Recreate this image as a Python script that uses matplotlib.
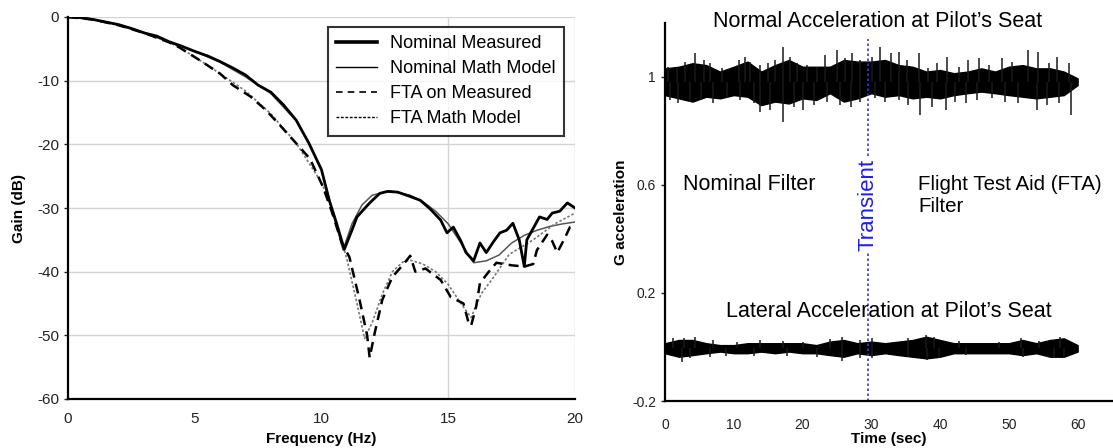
import matplotlib
matplotlib.use("Agg")
import matplotlib.pyplot as plt
from matplotlib.lines import Line2D

plt.rcParams['font.family'] = ['Liberation Sans', 'DejaVu Sans']
plt.rcParams['axes.unicode_minus'] = False

# ---------------- Left panel data: Gain vs Frequency ----------------
nom_meas_f = [0, 0.5, 1, 1.5, 2, 2.5, 3, 3.5, 4, 4.5, 5, 5.5, 6, 6.5, 7, 7.5, 8, 8.5,
              9, 9.5, 10, 10.3, 10.6, 10.9, 11.2, 11.4, 11.9, 12.3, 12.6, 13.0, 13.5,
              13.9, 14.3, 14.7, 14.95, 15.2, 15.5, 15.7, 16.0, 16.25, 16.5, 16.8, 17.04,
              17.3, 17.55, 17.8, 18.0, 18.1, 18.35, 18.6, 18.9, 19.1, 19.4, 19.7, 20.0]
nom_meas_db = [0, -0.1, -0.4, -0.8, -1.2, -1.8, -2.5, -3.0, -3.9, -4.6, -5.4, -6.1, -7.0,
               -8.0, -9.1, -10.7, -11.8, -13.8, -16.2, -19.8, -24.0, -28.7, -32.5, -36.5,
               -33.5, -31.4, -29.2, -27.7, -27.4, -27.5, -28.2, -28.8, -30.2, -31.9,
               -33.9, -33.0, -35.2, -37.0, -38.3, -35.5, -37.0, -35.2, -33.9, -33.5,
               -32.4, -35.0, -39.2, -35.0, -33.2, -31.4, -31.8, -30.8, -30.5, -29.2, -30.0]

nom_model_f = [0, 1, 2, 3, 4, 5, 6, 7, 8, 9, 9.5, 10, 10.4, 10.85, 11.2, 11.6, 12.0, 12.7,
               13.5, 14.0, 14.5, 15.0, 15.5, 16.0, 16.5, 17.0, 17.5, 18.0, 18.5, 19.0,
               19.5, 20.0]
nom_model_db = [0, -0.4, -1.2, -2.4, -4.0, -5.4, -7.1, -9.4, -12.0, -16.3, -19.8, -24.0,
                -30.0, -36.6, -32.5, -29.5, -28.0, -27.3, -28.0, -29.0, -30.5, -32.5,
                -35.5, -38.6, -38.3, -37.4, -35.5, -34.3, -33.5, -32.9, -32.5, -32.2]

fta_meas_f = [0, 1, 2, 3, 4, 4.4, 5.2, 6.0, 6.5, 7.2, 7.8, 8.36, 9.15, 9.55, 10.06, 10.4,
              10.8, 11.1, 11.5, 11.8, 11.9, 12.1, 12.4, 12.8, 13.2, 13.5, 13.7, 14.1,
              14.7, 15.1, 15.6, 15.8, 15.9, 16.1, 16.25, 16.6, 16.9, 17.5, 18.0, 18.35,
              18.5, 18.9, 19.1, 19.3, 19.6, 19.8, 20.0]
fta_meas_db = [0, -0.4, -1.3, -2.5, -4.0, -4.8, -6.8, -8.9, -10.7, -12.5, -14.6, -17.0,
               -20.5, -22.3, -26.7, -30.5, -35.5, -37.7, -44.4, -50.0, -53.5, -49.6,
               -44.4, -40.8, -39.0, -37.5, -40.0, -39.5, -41.3, -44.0, -45.0, -48.0,
               -48.5, -45.5, -41.8, -40.0, -38.6, -39.0, -39.2, -38.8, -36.6, -34.2,
               -35.2, -37.0, -34.7, -33.0, -32.7]

fta_model_f = [0, 1, 2, 3, 4, 4.4, 5.2, 6.0, 7.0, 8.0, 9.0, 10.0, 10.5, 11.0, 11.4, 11.7,
               12.0, 12.4, 12.8, 13.2, 13.5, 14.0, 14.5, 15.0, 15.5, 15.9, 16.3, 16.8,
               17.4, 18.35, 19.2, 20.0]
fta_model_db = [0, -0.4, -1.3, -2.5, -4.0, -4.8, -6.8, -8.9, -11.6, -15.2, -19.8, -26.0,
                -31.0, -38.0, -45.0, -50.5, -48.0, -43.5, -40.0, -38.5, -38.2, -38.8,
                -40.0, -42.0, -45.0, -47.2, -43.5, -40.8, -37.3, -35.0, -32.5, -30.8]

freq_ticks = [0, 5, 10, 15, 20]
gain_ticks = [0, -10, -20, -30, -40, -50, -60]

# ---------------- Right panel data: acceleration time histories ----------------
env_t = list(range(0, 61, 2))
normal_hi = [1.032, 1.038, 1.051, 1.044, 1.020, 1.038, 1.057, 1.020, 1.044, 1.063, 1.038,
             1.038, 1.038, 1.063, 1.057, 1.057, 1.063, 1.044, 1.038, 1.020, 1.026, 1.014,
             1.020, 1.032, 1.020, 1.038, 1.044, 1.032, 1.032, 1.020, 0.995]
normal_lo = [0.933, 0.921, 0.909, 0.927, 0.921, 0.933, 0.927, 0.896, 0.909, 0.902, 0.921,
             0.915, 0.940, 0.909, 0.921, 0.940, 0.927, 0.933, 0.921, 0.927, 0.921, 0.933,
             0.940, 0.946, 0.940, 0.933, 0.927, 0.921, 0.927, 0.933, 0.970]
# visible peaks above the band
normal_up_t = [0.5, 1.7, 2.9, 4.4, 5.6, 6.6, 8.3, 10.7, 11.7, 12.4, 13.8, 15.0, 16.0, 17.2,
               18.2, 19.2, 20.6, 22.1, 23.3, 25.0, 26.2, 27.2, 28.4, 30.1, 31.3, 32.8,
               34.0, 35.2, 36.9, 38.3, 39.5, 41.0, 42.7, 44.1, 45.6, 47.1, 49.0, 50.5,
               52.8, 54.3, 55.8, 57.0, 58.7]
normal_up_v = [1.038, 1.032, 1.057, 1.088, 1.063, 1.051, 1.032, 1.063, 1.075, 1.057, 1.044,
               1.051, 1.063, 1.112, 1.075, 1.051, 1.044, 1.038, 1.081, 1.100, 1.069, 1.088,
               1.063, 1.075, 1.112, 1.088, 1.094, 1.063, 1.088, 1.032, 1.051, 1.075, 1.038,
               1.063, 1.069, 1.044, 1.069, 1.057, 1.100, 1.094, 1.051, 1.075, 1.051]
# visible troughs below the band
normal_dn_t = [0.7, 1.9, 3.6, 5.3, 7.0, 9.0, 10.9, 12.9, 13.8, 15.3, 17.2, 18.7, 20.1, 21.6,
               23.5, 25.5, 27.0, 28.4, 30.6, 32.0, 34.0, 35.4, 37.1, 38.8, 40.8, 42.2,
               43.7, 45.4, 47.6, 49.5, 51.4, 54.1, 55.6, 57.3, 59.0]
normal_dn_v = [0.915, 0.902, 0.909, 0.915, 0.902, 0.921, 0.915, 0.902, 0.871, 0.877, 0.834,
               0.890, 0.877, 0.896, 0.909, 0.896, 0.890, 0.909, 0.921, 0.909, 0.915, 0.896,
               0.859, 0.890, 0.877, 0.909, 0.902, 0.915, 0.921, 0.909, 0.902, 0.877, 0.896,
               0.902, 0.859]

lateral_hi = [0.014, 0.026, 0.026, 0.014, 0.007, 0.007, 0.014, 0.014, 0.014, 0.014, 0.014,
              0.007, 0.020, 0.026, 0.014, 0.020, 0.014, 0.020, 0.026, 0.038, 0.026, 0.014,
              0.014, 0.014, 0.014, 0.014, 0.026, 0.014, 0.026, 0.032, 0.007]
lateral_lo = [-0.023, -0.036, -0.030, -0.023, -0.017, -0.023, -0.023, -0.017, -0.023,
              -0.017, -0.023, -0.023, -0.030, -0.036, -0.023, -0.030, -0.023, -0.030,
              -0.036, -0.042, -0.036, -0.023, -0.023, -0.023, -0.023, -0.023, -0.030,
              -0.023, -0.036, -0.036, -0.017]
lateral_up_t = [1.2, 2.7, 4.4, 7.0, 10.4, 13.8, 17.2, 20.1, 24.0, 25.7, 28.4, 30.1, 35.4,
                38.0, 39.1, 42.7, 48.5, 51.7, 54.4, 57.5]
lateral_up_v = [0.032, 0.035, 0.038, 0.026, 0.020, 0.026, 0.022, 0.020, 0.030, 0.038, 0.026,
                0.032, 0.035, 0.044, 0.038, 0.022, 0.020, 0.035, 0.022, 0.038]
lateral_dn_t = [2.4, 3.6, 6.5, 8.8, 12.9, 17.7, 22.1, 25.7, 28.4, 30.1, 35.4, 38.1, 39.8,
                43.7, 52.0, 56.6, 58.0]
lateral_dn_v = [-0.054, -0.042, -0.036, -0.032, -0.032, -0.032, -0.036, -0.052, -0.040,
                -0.042, -0.036, -0.048, -0.042, -0.030, -0.036, -0.040, -0.042]

time_ticks = [0, 10, 20, 30, 40, 50, 60]
g_ticks = [-0.2, 0.2, 0.6, 1.0]
g_ticklabels = ['-0.2', '0.2', '0.6', '1']
transient_t = 29.5

# ---------------- Figure ----------------
fig = plt.figure(figsize=(11.13, 4.48), dpi=100)

# Left panel
ax1 = fig.add_axes([68 / 1113, 49 / 448, 507 / 1113, 382 / 448])
ax1.set_xlim(0, 20)
ax1.set_ylim(-60, 0)
for g in gain_ticks[:-1]:
    ax1.axhline(g, color='#d4d4d4', lw=1.0, zorder=0)
for fv in (15, 20):
    ax1.axvline(fv, color='#d4d4d4', lw=1.0, zorder=0)

ax1.plot(nom_meas_f, nom_meas_db, color='black', lw=2.0, zorder=4)
ax1.plot(nom_model_f, nom_model_db, color='#555555', lw=1.1, zorder=3)
ax1.plot(fta_meas_f, fta_meas_db, color='black', lw=1.8, ls=(0, (4, 2.5)), zorder=4)
ax1.plot(fta_model_f, fta_model_db, color='#777777', lw=1.2, ls=(0, (1.5, 1.2)), zorder=3)

ax1.set_xticks(freq_ticks)
ax1.set_xticklabels([str(v) for v in freq_ticks])
ax1.set_yticks(gain_ticks)
ax1.set_yticklabels([str(v) for v in gain_ticks])
ax1.tick_params(axis='both', labelsize=11, colors='#222222', length=3, width=1)
ax1.tick_params(axis='x', length=0, pad=9)
for s in ('top', 'right'):
    ax1.spines[s].set_visible(False)
for s in ('left', 'bottom'):
    ax1.spines[s].set_linewidth(1.6)
    ax1.spines[s].set_color('black')
ax1.set_xlabel('Frequency (Hz)', fontsize=11, fontweight='bold', labelpad=5)
ax1.set_ylabel('Gain (dB)', fontsize=11, fontweight='bold', labelpad=8)

handles = [
    Line2D([], [], color='black', lw=2.6),
    Line2D([], [], color='black', lw=1.0),
    Line2D([], [], color='black', lw=1.2, ls=(0, (4, 3))),
    Line2D([], [], color='black', lw=1.0, ls=(0, (2, 1.2))),
]
labels = ['Nominal Measured', 'Nominal Math Model', 'FTA on Measured', 'FTA Math Model']
leg = ax1.legend(handles, labels, loc='upper right', bbox_to_anchor=(0.978, 0.974),
                 borderaxespad=0, fontsize=13, frameon=True, fancybox=False,
                 edgecolor='black', handlelength=2.3, handletextpad=0.7,
                 labelspacing=0.45, borderpad=0.45)
leg.get_frame().set_linewidth(1.5)
leg.set_zorder(10)

# Right panel
ax2 = fig.add_axes([665 / 1113, 47 / 448, 447 / 1113, 378 / 448])
ax2.set_xlim(0, 65)
ax2.set_ylim(-0.2, 1.2)

ax2.fill_between(env_t, normal_lo, normal_hi, color='black', lw=1.0, edgecolor='black')
ax2.vlines(normal_up_t, 0.98, normal_up_v, color='#1a1a1a', lw=1.1)
ax2.vlines(normal_dn_t, 0.98, normal_dn_v, color='#1a1a1a', lw=1.1)
ax2.fill_between(env_t, lateral_lo, lateral_hi, color='black', lw=1.0, edgecolor='black')
ax2.vlines(lateral_up_t, -0.005, lateral_up_v, color='#1a1a1a', lw=1.1)
ax2.vlines(lateral_dn_t, -0.005, lateral_dn_v, color='#1a1a1a', lw=1.1)

ax2.vlines(transient_t, -0.2, 1.14, color='#3333ee', lw=1.2, ls=(0, (1.5, 1.5)), zorder=1)
ax2.text(transient_t, 0.526, 'Transient', rotation=90, color='#1f1fee', fontsize=16,
         ha='center', va='center',
         bbox=dict(facecolor='white', edgecolor='none', pad=1.0), zorder=5)

ax2.text(30.9, 1.204, 'Normal Acceleration at Pilot\u2019s Seat', fontsize=15.5,
         ha='center', va='center', clip_on=False)
ax2.text(2.6, 0.60, 'Nominal Filter', fontsize=15.5, ha='left', va='center')
ax2.text(36.8, 0.561, 'Flight Test Aid (FTA)\nFilter', fontsize=14.8, ha='left',
         va='center', linespacing=1.25)
ax2.text(32.5, 0.13, 'Lateral Acceleration at Pilot\u2019s Seat', fontsize=15.5,
         ha='center', va='center')

ax2.set_xticks(time_ticks)
ax2.set_xticklabels([str(v) for v in time_ticks])
ax2.set_yticks(g_ticks)
ax2.set_yticklabels(g_ticklabels)
ax2.tick_params(axis='both', labelsize=10, colors='#222222', length=3, width=1)
ax2.tick_params(axis='x', length=0, pad=12)
for s in ('top', 'right'):
    ax2.spines[s].set_visible(False)
for s in ('left', 'bottom'):
    ax2.spines[s].set_linewidth(1.6)
    ax2.spines[s].set_color('black')
ax2.set_xlabel('Time (sec)', fontsize=11, fontweight='bold', labelpad=0)
ax2.set_ylabel('G acceleration', fontsize=11, fontweight='bold', labelpad=3)

fig.savefig('out.png', dpi=100)
